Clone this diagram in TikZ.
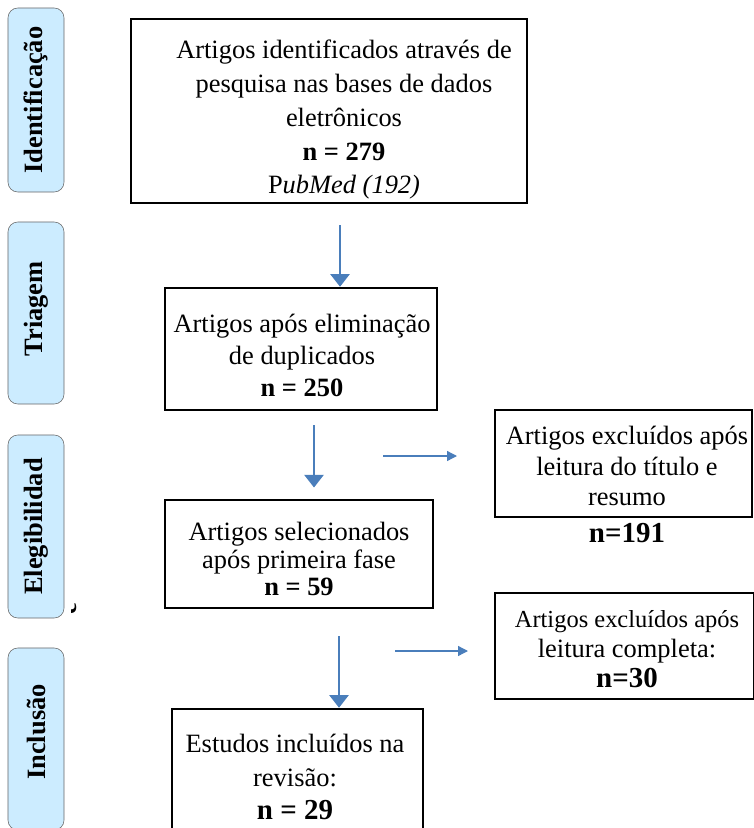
\documentclass[tikz,border=0pt]{standalone}
\usepackage{fontspec}
\setmainfont{Liberation Serif}
\usetikzlibrary{arrows.meta}
\definecolor{arblue}{HTML}{4A7EBB}
\definecolor{phblue}{HTML}{CCECFF}

\begin{document}
\begin{tikzpicture}[x=0.025cm,y=-0.025cm,>={Triangle[width=13.5pt,length=9pt]},font=\fontsize{18.8}{23.5}\selectfont]
\tikzstyle{b}=[draw,line width=1.7pt]
\tikzstyle{t}=[align=center,inner sep=0pt]
\tikzstyle{ph}=[draw=black!60,fill=phblue,rounded corners=7pt,rotate=90,minimum height=1.4cm,font=\fontsize{18.8}{23.5}\selectfont\bfseries]
\tikzstyle{ar}=[->,draw=arblue,line width=1.8pt]
\tikzstyle{arh}=[-{Triangle[width=7pt,length=7pt]},draw=arblue,line width=0.9pt]
\tikzstyle{nb}=[font=\fontsize{20.6}{24}\selectfont\bfseries]
\clip (0,0) rectangle (754,828);
% phases on the left
\node[ph,minimum width=4.6cm] (fid) at (36,100) {Identificação};
\node[ph,minimum width=4.55cm] (ftri) at (36,313) {\hspace{6pt}Triagem};
\node[ph,minimum width=4.575cm] (fele) at (36,526.5) {Elegibilidad\hspace{14pt}};
\begin{scope} \clip (71,590) rectangle (90,630); \node[rotate=90,inner sep=0pt,font=\fontsize{18.8}{23.5}\selectfont\bfseries] (fele2) at (70,609) {e}; \end{scope}
\node[ph,minimum width=4.55cm] (finc) at (36,739) {\hspace{10pt}Inclusão};
% boxes
\node[b,minimum width=9.9cm,minimum height=4.6cm] (ident) at (329,111) {};
\node[t,font=\fontsize{18.8}{24}\selectfont] (identt) at (344,120) {Artigos identificados através de\\pesquisa nas bases de dados\\eletrônicos\\\textbf{n = 279}\\P\textit{ubMed (192)}};
\node[b,minimum width=6.8cm,minimum height=3.05cm] (dupl) at (301,349) {};
\node[t,font=\fontsize{18.8}{22.8}\selectfont] (duplt) at (302,355) {Artigos após eliminação\\de duplicados\\\textbf{n = 250}};
\node[b,minimum width=6.425cm,minimum height=2.675cm] (excl1) at (623.5,463.5) {};
\node[t,font=\fontsize{18.8}{21.5}\selectfont] (excl1t) at (627,466) {Artigos excluídos após\\leitura do título e\\resumo};
\node[nb] (n191) at (627,533) {n=191};
\node[b,minimum width=6.7cm,minimum height=2.7cm] (selec) at (299,554) {};
\node[t,font=\fontsize{18.8}{19.8}\selectfont] (select) at (299,559) {Artigos selecionados\\após primeira fase\\\textbf{n = 59}};
\node[b,minimum width=6.475cm,minimum height=2.65cm] (excl2) at (624.5,646) {};
\node[t,font=\fontsize{18.8}{21.5}\selectfont] (excl2t) at (627,649) {{\fontsize{17.4}{21.5}\selectfont Artigos excluídos após}\\leitura completa:\\{\fontsize{20.6}{21.5}\selectfont\bfseries n=30}};
\node[b,minimum width=6.275cm,minimum height=3.4cm] (incl) at (297.5,777) {};
\node[t,font=\fontsize{18.8}{23.8}\selectfont] (inclt) at (295,777) {Estudos incluídos na\\revisão:\\{\fontsize{20.6}{23.8}\selectfont\bfseries n = 29}};
% arrows
\coordinate (a1) at (340,225); \coordinate (a2) at (314,425); \coordinate (a3) at (339,636);
\draw[ar] (a1) -- (a1 |- dupl.north);
\draw[ar,shorten >=8pt] (a2) -- (a2 |- selec.north);
\draw[ar] (a3) -- (a3 |- incl.north);
\coordinate (h1s) at (383,456); \coordinate (h1e) at (457,456);
\coordinate (h2s) at (395,651); \coordinate (h2e) at (468,651);
\draw[arh] (h1s) -- (h1e); \draw[arh] (h2s) -- (h2e);
\end{tikzpicture}
\end{document}
